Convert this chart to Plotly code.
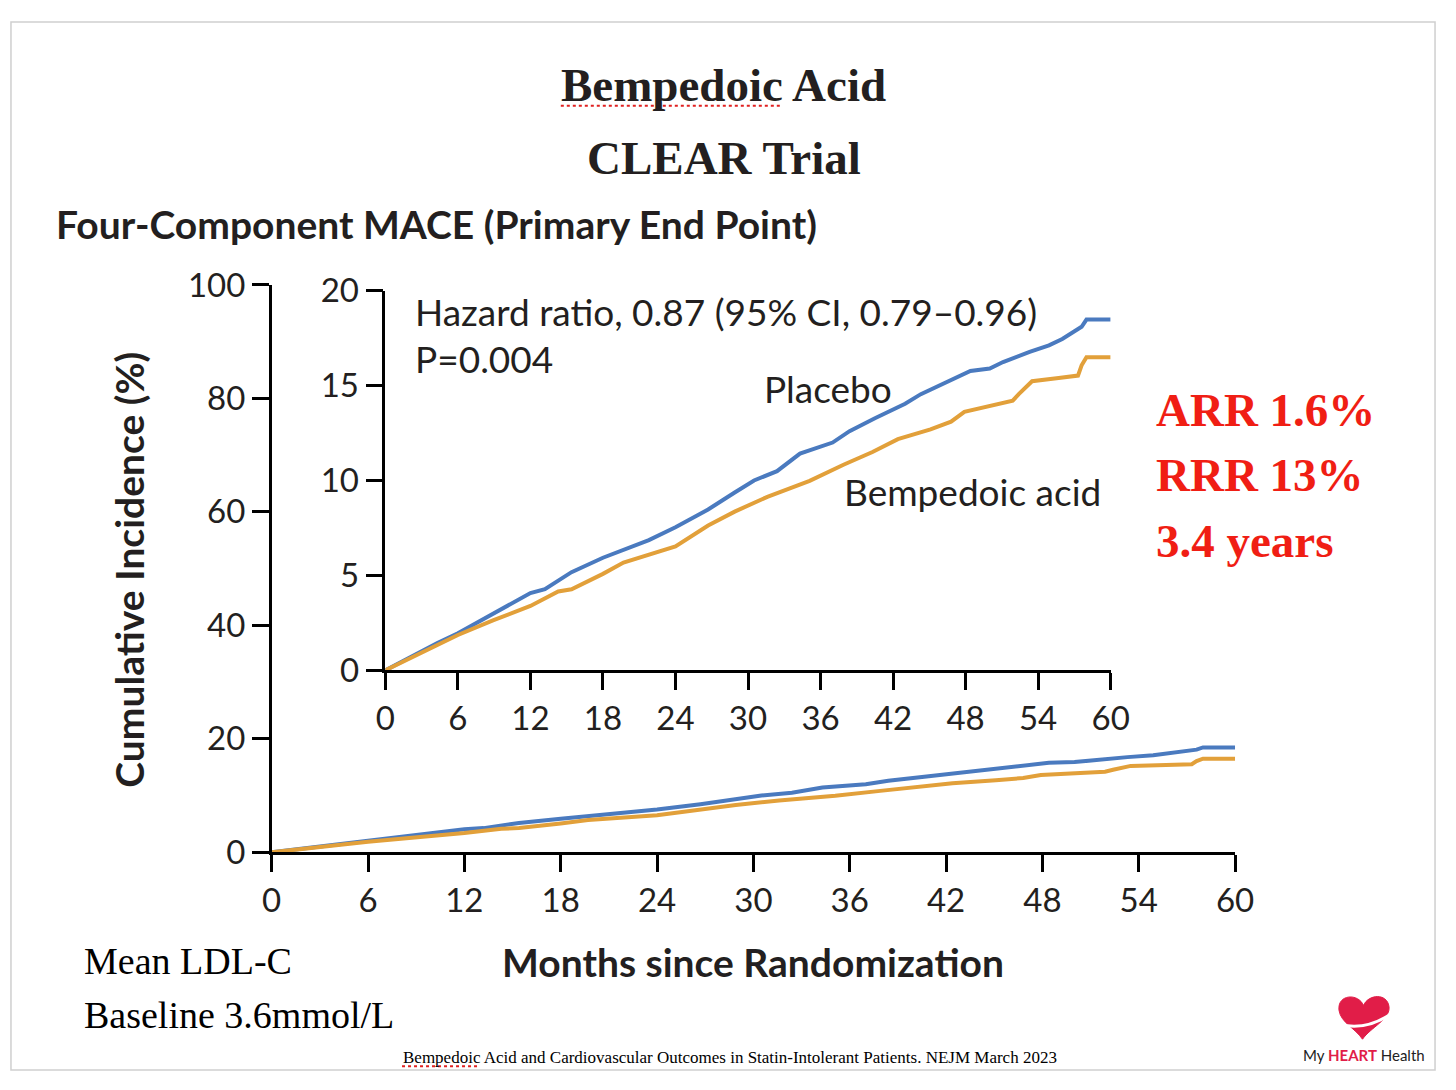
import plotly.graph_objects as go

W, H = 1456, 1090

# ---- data ----
months_placebo = [0, 4.3, 6, 8.9, 12, 13.2, 15.4, 18, 19.7, 21.8, 24, 26.7, 28.9, 30.5,
                  32.4, 34.3, 37.0, 38.4, 40.5, 43.0, 44.3, 46.8, 48.4, 50.0, 51.1, 53.3,
                  54.9, 56.0, 57.2, 57.6, 58.0, 60]
placebo = [0, 1.44, 1.95, 2.97, 4.07, 4.27, 5.17, 5.93, 6.36, 6.86, 7.54, 8.47, 9.37, 10.0,
           10.49, 11.42, 12.0, 12.6, 13.28, 14.04, 14.55, 15.31, 15.77, 15.9, 16.24, 16.78,
           17.12, 17.46, 17.93, 18.1, 18.48, 18.48]
months_bempedoic = [0, 4.3, 6, 8.9, 12, 14.3, 15.4, 18, 19.7, 24, 26.7, 28.9, 31.6, 35.1,
                    37.9, 40.3, 42.4, 45.1, 46.8, 47.9, 49.5, 51.9, 52.4, 53.5, 55.7, 57.3,
                    57.6, 58.0, 60]
bempedoic = [0, 1.36, 1.86, 2.63, 3.39, 4.15, 4.27, 5.08, 5.68, 6.53, 7.63, 8.36, 9.14, 9.98,
             10.83, 11.5, 12.18, 12.69, 13.1, 13.62, 13.87, 14.21, 14.55, 15.23, 15.4, 15.53,
             16.07, 16.5, 16.5]

month_ticks = [0, 6, 12, 18, 24, 30, 36, 42, 48, 54, 60]
main_y_ticks = [0, 20, 40, 60, 80, 100]
inset_y_ticks = [0, 5, 10, 15, 20]

BLUE = "#4a7abf"
ORANGE = "#e2a03a"
INK = "#231f20"
RED = "#f01e14"
FONT = "Lato"
SERIF = "Liberation Serif"


def px(x):
    return x / W


def py(y):
    return 1 - y / H


fig = go.Figure()

for xa, ya in (("x", "y"), ("x2", "y2")):
    fig.add_trace(go.Scatter(x=months_placebo, y=placebo, mode="lines",
                             line=dict(color=BLUE, width=4), xaxis=xa, yaxis=ya,
                             showlegend=False, hoverinfo="skip"))
    fig.add_trace(go.Scatter(x=months_bempedoic, y=bempedoic, mode="lines",
                             line=dict(color=ORANGE, width=4), xaxis=xa, yaxis=ya,
                             showlegend=False, hoverinfo="skip"))

axis_common = dict(showgrid=False, zeroline=False, showline=True, linecolor="black",
                   linewidth=2.5, ticks="outside", ticklen=17, tickwidth=2.5,
                   tickcolor="black", tickfont=dict(family=FONT, size=33, color=INK))

fig.update_layout(
    autosize=True,
    margin=dict(l=0, r=0, t=0, b=0),
    paper_bgcolor="white", plot_bgcolor="rgba(0,0,0,0)",
    xaxis=dict(domain=[px(267), px(1250)], range=[0, 60], tickvals=month_ticks,
               anchor="y", **axis_common),
    yaxis=dict(domain=[py(863), py(274)], range=[0, 100], tickvals=main_y_ticks,
               anchor="x", **axis_common),
    xaxis2=dict(domain=[px(383), px(1123)], range=[0, 60], tickvals=month_ticks,
                anchor="y2", **axis_common),
    yaxis2=dict(domain=[py(674), py(280)], range=[0, 20], tickvals=inset_y_ticks,
                anchor="x2", **axis_common),
)


def note(text, x, y, size, family=FONT, color=INK, xanchor="left", yanchor="middle",
         angle=0):
    fig.add_annotation(text=text, x=px(x), y=py(y), xref="paper", yref="paper",
                       showarrow=False, xanchor=xanchor, yanchor=yanchor,
                       textangle=angle, font=dict(family=family, size=size, color=color))


# titles
note("<b>Bempedoic Acid</b>", 728, 66, 47, family=SERIF, color=INK, xanchor="center")
note("<b>CLEAR Trial</b>", 728, 142, 47, family=SERIF, color=INK, xanchor="center")
note("<b>Four-Component MACE (Primary End Point)</b>", 45, 211, 39)
note("<b>Cumulative Incidence (%)</b>", 122, 570, 39, xanchor="center", angle=-90)
note("<b>Months since Randomization</b>", 758, 977, 39, xanchor="center")

# inset texts
note("Hazard ratio, 0.87 (95% CI, 0.79\u20130.96)", 411, 302, 37)
note("P=0.004", 411, 350, 37)
note("Placebo", 767, 382, 37)
note("Bempedoic acid", 849, 488, 37)

# red summary
note("<b>ARR 1.6%</b>", 1167, 404, 47, family=SERIF, color=RED)
note("<b>RRR 13%</b>", 1167, 471, 47, family=SERIF, color=RED)
note("<b>3.4 years</b>", 1167, 540, 47, family=SERIF, color=RED)

# bottom notes
note("Mean LDL-C", 73, 976, 38, family=SERIF, color="black")
note("Baseline 3.6mmol/L", 73, 1032, 38, family=SERIF, color="black")
note("Bempedoic Acid and Cardiovascular Outcomes in Statin-Intolerant Patients. NEJM March 2023",
     399, 1076, 17, family=SERIF, color="black")
note("My <b><span style='color:#e11d48'>HEART</span></b> Health", 1382, 1073, 15,
     family=FONT, color="#222", xanchor="center")

# spell-check dotted underlines
fig.add_shape(type="line", xref="paper", yref="paper", x0=px(562), x1=px(787),
              y0=py(88), y1=py(88), line=dict(color="#e02020", width=2, dash="dot"))
fig.add_shape(type="line", xref="paper", yref="paper", x0=px(400), x1=px(479),
              y0=py(1085), y1=py(1085), line=dict(color="#e02020", width=2, dash="dot"))


# heart logo
def P(x, y):
    return f"{px(x):.5f},{py(y):.5f}"


heart = (f"M {P(1381,1022)} C {P(1376,1009)} {P(1354,1010)} {P(1356,1027)} "
         f"C {P(1358,1040)} {P(1372,1045)} {P(1380,1057)} "
         f"C {P(1388,1045)} {P(1409,1036)} {P(1407,1023)} "
         f"C {P(1405,1009)} {P(1386,1010)} {P(1381,1022)} Z")
fig.add_shape(type="path", xref="paper", yref="paper", path=heart,
              fillcolor="#e11d48", line=dict(color="#e11d48", width=1))
swoosh = f"M {P(1358,1042)} Q {P(1385,1048)} {P(1410,1030)}"
fig.add_shape(type="path", xref="paper", yref="paper", path=swoosh,
              line=dict(color="white", width=3))

# light frame at the page edges
fig.add_shape(type="rect", xref="paper", yref="paper", x0=px(1), x1=px(1454),
              y0=py(1), y1=py(1089), line=dict(color="#cfcfcf", width=1.5))

fig.write_html("out.html", config={"displayModeBar": False, "responsive": True},
               default_width="100vw", default_height="100vh",
               post_script="document.body.style.margin='0';document.body.style.overflow='hidden';")
